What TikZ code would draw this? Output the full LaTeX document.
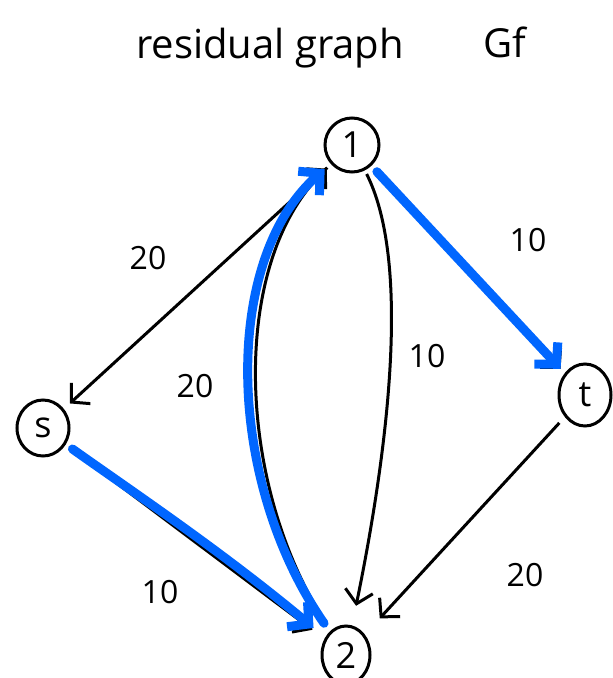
\documentclass[tikz,border=0pt]{standalone}
\usepackage{fontspec}
\setmainfont{Open Sans}
\usepackage{tikz}
\usetikzlibrary{positioning, arrows.meta, shapes.geometric, calc}
\definecolor{pathblue}{RGB}{0,102,255}

\begin{document}
\begin{tikzpicture}[
    x=1pt, y=-1pt,
    >={Straight Barb[length=13pt, width=28pt]},
    vertex/.style={circle, draw=black, line width=3pt, minimum size=54pt, inner sep=0pt, font=\fontsize{36}{40}\selectfont},
    vertexoval/.style={ellipse, draw=black, line width=3pt, minimum width=52pt, minimum height=62pt, inner sep=0pt, font=\fontsize{36}{40}\selectfont},
    weight/.style={font=\fontsize{32}{36}\selectfont},
    edge/.style={->, line width=3pt, black},
    aug/.style={-{Straight Barb[length=15pt, width=32pt]}, line width=9pt, pathblue, line cap=round}
]
\useasboundingbox (0,0) rectangle (613,678);

\node[font=\fontsize{40}{46}\selectfont] (title) at (270,48) {residual graph};
\node[font=\fontsize{40}{46}\selectfont] (gf) at (505,42) {Gf};

\node[vertex] (n1) at (352,145) {1};
\node[vertexoval, minimum width=52pt, minimum height=56pt] (s) at (43,428) {s};
\node[vertexoval] (t) at (585,395) {t};
\node[vertexoval, minimum height=58pt, minimum width=48pt] (n2) at (346,655) {2};

\draw[edge, shorten <=5pt, shorten >=8pt] (n1) -- (s);
\draw[edge, shorten <=4pt, shorten >=20pt] (n1) .. controls (410,260) and (390,440) .. (n2);
\draw[edge, shorten <=12pt, shorten >=6pt] (n2) .. controls (235,480) and (230,260) .. (n1);
\draw[edge, shorten <=6pt, shorten >=6pt] (n1) -- (t);
\draw[edge, shorten <=6pt, shorten >=15pt] (s) -- (n2);
\draw[edge, shorten <=8pt, shorten >=22pt] (t) -- (n2);

% augmenting path s -> 2 -> 1 -> t
\draw[aug, shorten <=8pt, shorten >=15pt] (s) .. controls (130,490) and (220,550) .. (n2);
\draw[aug, shorten <=10pt, shorten >=8pt] (n2) .. controls (225,480) and (222,260) .. (n1);
\draw[aug, shorten <=8pt, shorten >=6pt] (n1) -- (t);

\node[weight] (w1s) at (148,258) {20};
\node[weight] (w12) at (427,356) {10};
\node[weight] (w21) at (195,386) {20};
\node[weight] (w1t) at (528,240) {10};
\node[weight] (ws2) at (160,592) {10};
\node[weight] (wt2) at (525,575) {20};
\end{tikzpicture}
\end{document}
